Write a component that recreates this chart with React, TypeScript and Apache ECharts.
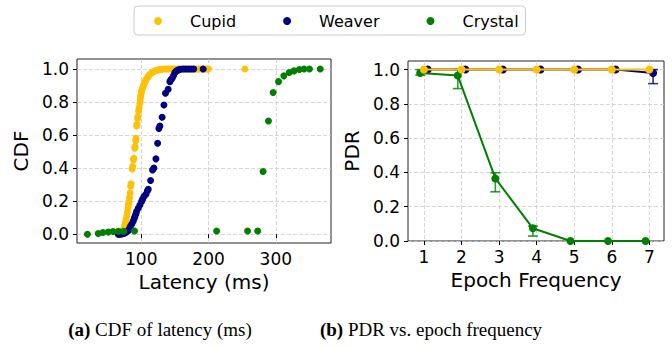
import React, { useEffect, useRef } from 'react';
import * as echarts from 'echarts';

// ---------- Data ----------
const seriesNames = ['Cupid', 'Weaver', 'Crystal'];

// (a) CDF of latency (ms)
const cupidLatency = [65, 67, 69, 71, 72.5, 74, 75, 76.5, 77.5, 78.5, 79.5, 80.5, 81, 81.7, 82.5, 83.5, 84.3, 84.8, 86.6, 87.2, 88.4, 89, 90.3, 90.8, 91.8, 92.2, 93.2, 93.8, 94.6, 95, 96, 96.8, 97.8, 98.4, 99, 99.5, 100.2, 101, 102, 103, 104, 105, 106.2, 107.5, 109, 110.5, 112, 114, 116, 118, 120, 122.5, 125, 128, 131, 134, 137, 140, 143, 146, 149, 152, 155, 158, 161, 164, 167, 170, 173, 176, 179, 182, 185, 188, 191, 194, 197, 200, 254];
const cupidCdf = [0, 0.002, 0.006, 0.012, 0.02, 0.035, 0.05, 0.07, 0.09, 0.11, 0.135, 0.16, 0.18, 0.195, 0.22, 0.25, 0.29, 0.305, 0.395, 0.41, 0.45, 0.46, 0.52, 0.53, 0.565, 0.58, 0.655, 0.665, 0.7, 0.71, 0.745, 0.765, 0.79, 0.81, 0.83, 0.845, 0.86, 0.872, 0.885, 0.897, 0.907, 0.917, 0.927, 0.937, 0.946, 0.955, 0.963, 0.971, 0.978, 0.983, 0.987, 0.991, 0.994, 0.996, 0.998, 0.999, 1, 1, 1, 1, 1, 1, 1, 1, 1, 1, 1, 1, 1, 1, 1, 1, 1, 1, 1, 1, 1, 1, 1];

const weaverLatency = [66, 68.5, 71, 73.5, 75.7, 78, 80.7, 82.5, 84, 86, 88, 89.5, 90.6, 92, 93, 95.5, 98, 100.5, 102, 104, 107, 109, 110.4, 113.9, 116.8, 118.8, 121.8, 124.3, 126.2, 127.7, 131, 133.7, 136, 140, 142.6, 144, 146, 148, 150, 152.5, 155, 158, 162, 166, 170, 174, 178, 192];
const weaverCdf = [0, 0, 0.002, 0.004, 0.008, 0.013, 0.022, 0.035, 0.048, 0.062, 0.078, 0.095, 0.107, 0.122, 0.137, 0.157, 0.177, 0.198, 0.212, 0.228, 0.242, 0.262, 0.272, 0.325, 0.389, 0.4, 0.456, 0.55, 0.64, 0.655, 0.708, 0.782, 0.853, 0.877, 0.923, 0.935, 0.944, 0.96, 0.978, 0.988, 0.994, 0.998, 1, 1, 1, 1, 1, 1];

const crystalLatency = [20, 36, 43, 51, 58, 66, 74, 90, 212, 258, 273, 281, 289, 296, 304, 312, 320, 327, 335, 342, 350, 366];
const crystalCdf = [0, 0.005, 0.01, 0.013, 0.016, 0.018, 0.018, 0.02, 0.02, 0.02, 0.02, 0.38, 0.685, 0.857, 0.923, 0.958, 0.978, 0.988, 0.996, 1, 1, 1];

const cdfTicks = [0, 0.2, 0.4, 0.6, 0.8, 1.0];
const latencyTicks = [100, 200, 300];

// (b) PDR vs. epoch frequency
const epochs = [1, 2, 3, 4, 5, 6, 7];
const cupidPdr = [1, 1, 1, 1, 1, 1, 1];
const weaverPdr = [1, 1, 1, 1, 1, 1, 0.98];
const weaverPdrLow = [1, 1, 1, 1, 1, 1, 0.918];
const weaverPdrHigh = [1, 1, 1, 1, 1, 1, 1.0];
const crystalPdr = [0.98, 0.965, 0.365, 0.074, 0, 0, 0];
const crystalPdrLow = [0.967, 0.889, 0.287, 0.029, 0, 0, 0];
const crystalPdrHigh = [1.0, 1.0, 0.398, 0.087, 0, 0, 0];
const pdrTicks = [0, 0.2, 0.4, 0.6, 0.8, 1.0];

const captionA = 'CDF of latency (ms)';
const captionB = 'PDR vs. epoch frequency';

// ---------- Styles ----------
const COLORS: Record<string, string> = { Cupid: '#FFC107', Weaver: '#000080', Crystal: '#008000' };
const FONT = 'DejaVu Sans';
const SERIF = 'Liberation Serif';
const WEAVER_SHIFT = 0.1;
const CRYSTAL_SHIFT = -0.1;

const zip = (xs: number[], ys: number[]) => xs.map((x, i) => [x, ys[i]]);

function errorBarSeries(name: string, xs: number[], lo: number[], hi: number[], shift: number, color: string) {
  return {
    type: 'custom',
    name: name + ' err',
    xAxisIndex: 1,
    yAxisIndex: 1,
    z: 1,
    encode: { x: 0, y: [1, 2] },
    data: xs.map((x, i) => [x + shift, lo[i], hi[i]]),
    renderItem: (params: any, api: any) => {
      const x = api.value(0);
      const l = api.value(1);
      const h = api.value(2);
      if (l === h) return { type: 'group', children: [] };
      const p1 = api.coord([x, l]);
      const p2 = api.coord([x, h]);
      const hw = 5;
      const style = { stroke: color, lineWidth: 1.6, opacity: 0.8 };
      return {
        type: 'group',
        children: [
          { type: 'line', shape: { x1: p1[0], y1: p1[1], x2: p2[0], y2: p2[1] }, style },
          { type: 'line', shape: { x1: p1[0] - hw, y1: p1[1], x2: p1[0] + hw, y2: p1[1] }, style },
          { type: 'line', shape: { x1: p2[0] - hw, y1: p2[1], x2: p2[0] + hw, y2: p2[1] }, style },
        ],
      };
    },
  };
}

function valueAxis(opts: any) {
  return {
    type: 'value',
    axisLine: { show: false },
    axisTick: { show: true, length: 4, lineStyle: { color: '#000', width: 1 }, customValues: opts.ticks },
    axisLabel: {
      customValues: opts.ticks,
      color: '#000',
      fontSize: 17,
      fontFamily: FONT,
      margin: opts.labelMargin,
      formatter: opts.formatter,
    },
    splitLine: { show: true, lineStyle: { color: '#cccccc', width: 0.8, type: [4, 2] } },
    nameLocation: 'middle',
    nameTextStyle: { color: '#000', fontSize: 20, fontFamily: FONT },
    ...opts.extra,
  };
}

export default function App() {
  const ref = useRef<HTMLDivElement>(null);

  useEffect(() => {
    document.body.style.margin = '0';
    if (!ref.current) return;
    const chart = echarts.init(ref.current, undefined, { renderer: 'svg' });

    const gridStyle = { show: true, borderColor: '#222', borderWidth: 1, backgroundColor: 'transparent' };
    const scatterStyle = (name: string) => ({ color: COLORS[name], opacity: 1 });

    const option: any = {
      animation: false,
      backgroundColor: '#fff',
      textStyle: { fontFamily: FONT },
      legend: {
        data: seriesNames,
        left: 134,
        top: 6,
        icon: 'circle',
        itemWidth: 8,
        itemHeight: 8,
        itemGap: 47,
        padding: [7, 7, 6, 20],
        borderColor: '#cccccc',
        borderWidth: 1,
        borderRadius: 4,
        itemStyle: { opacity: 1 },
        textStyle: { fontSize: 16, fontFamily: FONT, color: '#000', padding: [0, 0, 0, 23] },
      },
      grid: [
        { left: 77, top: 59, width: 254, height: 184, ...gridStyle },
        { left: 408, top: 61, width: 256, height: 180, ...gridStyle },
      ],
      xAxis: [
        valueAxis({
          ticks: latencyTicks,
          labelMargin: 7,
          formatter: (v: number) => String(v),
          extra: { gridIndex: 0, min: 4.5, max: 382, name: 'Latency (ms)', nameGap: 29 },
        }),
        valueAxis({
          ticks: epochs,
          labelMargin: 7,
          formatter: (v: number) => String(v),
          extra: { gridIndex: 1, min: 0.575, max: 7.39, name: 'Epoch Frequency', nameGap: 29 },
        }),
      ],
      yAxis: [
        valueAxis({
          ticks: cdfTicks,
          labelMargin: 8,
          formatter: (v: number) => v.toFixed(1),
          extra: { gridIndex: 0, min: -0.053, max: 1.06, name: 'CDF', nameGap: 46 },
        }),
        valueAxis({
          ticks: pdrTicks,
          labelMargin: 8,
          formatter: (v: number) => v.toFixed(1),
          extra: { gridIndex: 1, min: 0, max: 1.05, name: 'PDR', nameGap: 46 },
        }),
      ],
      series: [
        // (a)
        { type: 'scatter', name: 'Cupid', xAxisIndex: 0, yAxisIndex: 0, symbolSize: 7, itemStyle: scatterStyle('Cupid'), data: zip(cupidLatency, cupidCdf), z: 2 },
        { type: 'scatter', name: 'Weaver', xAxisIndex: 0, yAxisIndex: 0, symbolSize: 7, itemStyle: scatterStyle('Weaver'), data: zip(weaverLatency, weaverCdf), z: 3 },
        { type: 'scatter', name: 'Crystal', xAxisIndex: 0, yAxisIndex: 0, symbolSize: 7, itemStyle: scatterStyle('Crystal'), data: zip(crystalLatency, crystalCdf), z: 4 },
        // (b)
        errorBarSeries('Weaver', epochs, weaverPdrLow, weaverPdrHigh, WEAVER_SHIFT, COLORS.Weaver),
        errorBarSeries('Crystal', epochs, crystalPdrLow, crystalPdrHigh, CRYSTAL_SHIFT, COLORS.Crystal),
        {
          type: 'line', name: 'Weaver', xAxisIndex: 1, yAxisIndex: 1, symbol: 'circle', symbolSize: 8, z: 2,
          itemStyle: { color: COLORS.Weaver }, lineStyle: { color: COLORS.Weaver, width: 2 },
          data: epochs.map((e, i) => [e + WEAVER_SHIFT, weaverPdr[i]]),
        },
        {
          type: 'line', name: 'Crystal', xAxisIndex: 1, yAxisIndex: 1, symbol: 'circle', symbolSize: 8, z: 3,
          itemStyle: { color: COLORS.Crystal }, lineStyle: { color: COLORS.Crystal, width: 2 },
          data: epochs.map((e, i) => [e + CRYSTAL_SHIFT, crystalPdr[i]]),
        },
        {
          type: 'line', name: 'Cupid', xAxisIndex: 1, yAxisIndex: 1, symbol: 'circle', symbolSize: 8, z: 4,
          itemStyle: { color: COLORS.Cupid }, lineStyle: { color: COLORS.Cupid, width: 2 },
          data: zip(epochs, cupidPdr),
        },
      ],
      graphic: [
        {
          type: 'text', x: 160, y: 329,
          style: {
            text: '{b|(a)} ' + captionA,
            fontFamily: SERIF, fontSize: 19, fill: '#000',
            align: 'center', verticalAlign: 'middle',
            rich: { b: { fontFamily: SERIF, fontSize: 19, fontWeight: 'bold', fill: '#000' } },
          },
        },
        {
          type: 'text', x: 431, y: 329,
          style: {
            text: '{b|(b)} ' + captionB,
            fontFamily: SERIF, fontSize: 19, fill: '#000',
            align: 'center', verticalAlign: 'middle',
            rich: { b: { fontFamily: SERIF, fontSize: 19, fontWeight: 'bold', fill: '#000' } },
          },
        },
      ],
    };

    chart.setOption(option);
    return () => chart.dispose();
  }, []);

  return <div ref={ref} style={{ width: 672, height: 346 }} />;
}
